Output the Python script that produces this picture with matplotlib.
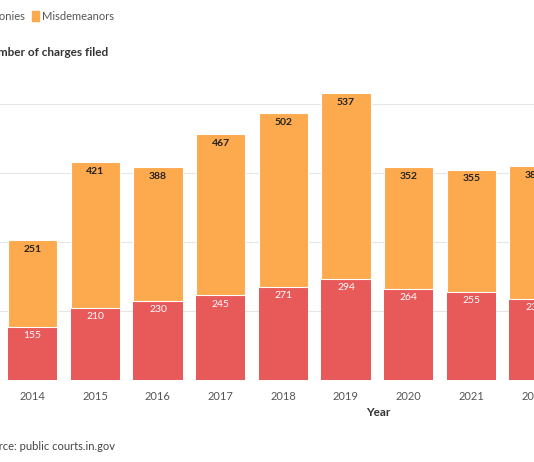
import matplotlib.pyplot as plt
from matplotlib.patches import Rectangle

years = [2014, 2015, 2016, 2017, 2018, 2019, 2020, 2021, 2022]
felonies = [155, 210, 230, 245, 271, 294, 264, 255, 236]
misdemeanors = [251, 421, 388, 467, 502, 537, 352, 355, 384]

RED = "#e8595a"
ORANGE = "#fda94e"
W, H = 534, 462

plt.rcParams["font.family"] = ["Lato", "DejaVu Sans"]
fig = plt.figure(figsize=(W / 100, H / 100), dpi=100)
ax = fig.add_axes([0, 1 - 380 / H, 1, 860 * 0.345 / H])

ax.bar(years, felonies, width=0.79, color=RED, zorder=2)
ax.bar(years, misdemeanors, width=0.79, bottom=felonies, color=ORANGE,
       edgecolor="white", linewidth=0.8, zorder=2)
for x, f, m in zip(years, felonies, misdemeanors):
    ax.text(x, f - 12, str(f), ha="center", va="top", color="white", fontsize=7.5)
    ax.text(x, f + m - 14, str(m), ha="center", va="top", color="#222222",
            fontsize=7.5, fontweight="bold")

ax.set_xlim(2013.48, 2021.95)
ax.set_ylim(0, 860)
ax.set_yticks([200, 400, 600, 800])
ax.yaxis.grid(True, color="#e6e6e6", linewidth=0.8, zorder=0)
ax.tick_params(axis="y", left=False, labelleft=False)
ax.tick_params(axis="x", length=0, labelsize=8, labelcolor="#555555", pad=8)
ax.set_xticks(years)
for s in ax.spines.values():
    s.set_visible(False)

def px(x, y):
    return x / W, 1 - y / H

fig.text(*px(378, 412), "Year", ha="center", va="center", fontsize=8.5,
         fontweight="bold", color="#333333")
fig.text(*px(108, 52), "Number of charges filed", ha="right", va="center",
         fontsize=8.5, fontweight="bold", color="#333333")
fig.text(*px(115, 446), "Source: public courts.in.gov", ha="right", va="center",
         fontsize=8, color="#444444")
fig.text(*px(25, 16), "Felonies", ha="right", va="center", fontsize=8, color="#555555")
fig.patches.append(Rectangle(px(32, 21), 7 / W, 10 / H, color=ORANGE,
                             transform=fig.transFigure, figure=fig))
fig.text(*px(42, 16), "Misdemeanors", ha="left", va="center", fontsize=8, color="#555555")

fig.savefig("out.png", dpi=100)
